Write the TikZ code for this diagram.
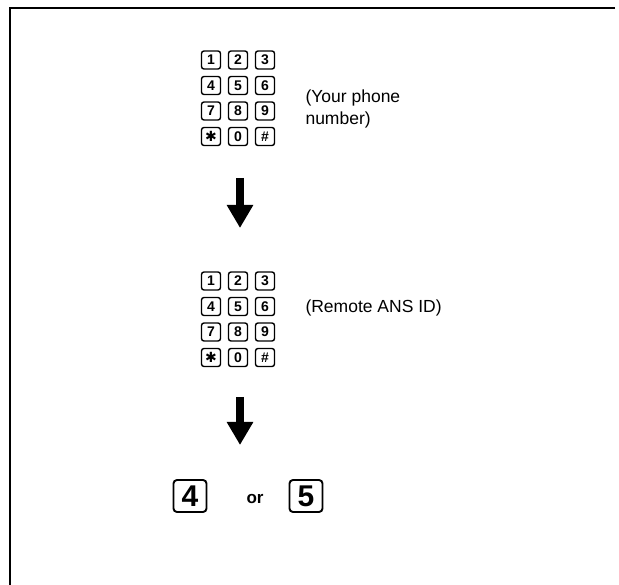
\documentclass[tikz,border=0pt]{standalone}
\usepackage{fontspec}
\setmainfont{Liberation Sans}
\newfontfamily\symfont{DejaVu Sans}
\usetikzlibrary{arrows.meta,positioning}

\tikzset{
  keycap/.style={draw, line width=1.4pt, rounded corners=2.5pt,
    minimum width=19pt, minimum height=18pt, inner sep=0pt,
    font=\fontsize{14}{14}\selectfont\bfseries},
  bigcap/.style={draw, line width=1.9pt, rounded corners=3.5pt,
    minimum width=33pt, minimum height=32pt, inner sep=0pt,
    font=\fontsize{30}{30}\selectfont\bfseries},
  flow/.style={line width=8.5pt, -{Triangle[width=25pt,length=23pt]}},
  note/.style={anchor=west, align=left, font=\fontsize{17.5}{22}\selectfont},
}

\begin{document}
\begin{tikzpicture}[x=1pt,y=-1pt]
  \useasboundingbox (0,0) rectangle (619,585);
  % frame
  \draw[line width=1.5pt] (615,8) -- (10,8) -- (10,585);
  % keypads
  \foreach \pad/\y in {a/60,b/281} {
    \foreach \lab/\name/\c/\r in {1/1/0/0,2/2/1/0,3/3/2/0,
        4/4/0/1,5/5/1/1,6/6/2/1,
        7/7/0/2,8/8/1/2,9/9/2/2,
        {{\symfont\fontsize{14}{14}\selectfont ✱}}/s/0/3,0/0/1/3,\#/h/2/3} {
      \node[keycap] (\pad\name) at ({211+27*\c},{\y+25.5*\r}) {\lab};
    }
  }
  \node[note] (yours) at (302,109) {(Your phone\\number)};
  \node[note] (ansid) at (302,308) {(Remote ANS ID)};
  % flow arrows
  \coordinate (arrA1) at (240,178);
  \coordinate (arrA2) at (240,228);
  \coordinate (arrB1) at (240,397);
  \coordinate (arrB2) at (240,445);
  \draw[flow] (arrA1) -- (arrA2);
  \draw[flow] (arrB1) -- (arrB2);
  % last step
  \node[bigcap] (four) at (190,496) {4};
  \node[font=\fontsize{17}{17}\selectfont\bfseries] (or) at (255,499) {or};
  \node[bigcap] (five) at (306,496) {5};
\end{tikzpicture}
\end{document}
